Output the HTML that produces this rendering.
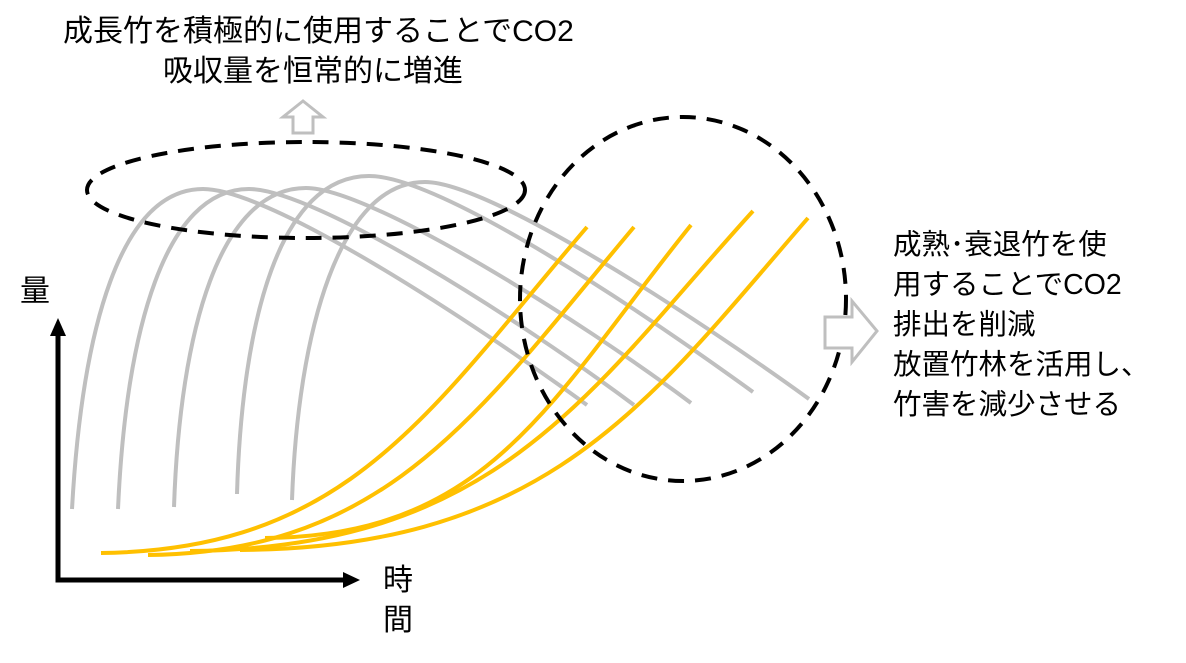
<!DOCTYPE html>
<html><head><meta charset="utf-8"><style>
html,body{margin:0;padding:0;background:#fff;}
body{width:1186px;height:663px;position:relative;overflow:hidden;font-family:"Liberation Sans","Noto Sans CJK JP",sans-serif;color:#000;}
.t{position:absolute;font-size:30px;line-height:40px;white-space:nowrap;}
.r{font-size:28.5px;}
</style></head><body>
<svg width="1186" height="663" style="position:absolute;left:0;top:0">
<g fill="none" stroke="#bfbfbf" stroke-width="4">
<path d="M72,509 C82,330 120,189 203,189 C270,189 470,320 587,405"/>
<path d="M118,509 C126,330 165,189 249,189 C315,189 520,320 634,405"/>
<path d="M174,507 C180,330 220,188 306,188 C370,188 580,320 691,403"/>
<path d="M237,494 C242,320 280,176 369,176 C440,176 640,310 753,392"/>
<path d="M292,500 C298,330 340,182 425,182 C490,182 700,320 809,399"/>
</g>
<g fill="none" stroke="#ffc000" stroke-width="4">
<path d="M101,553 C350,550 430,410 587,227"/>
<path d="M148,555 C390,552 480,410 634,227"/>
<path d="M265,538 C490,536 550,400 691,225"/>
<path d="M190,551 C500,548 590,390 753,211"/>
<path d="M240,550 C550,548 650,400 808,218"/>
</g>
<g fill="none" stroke="#000" stroke-width="4" stroke-dasharray="16,11">
<ellipse cx="306" cy="190" rx="219" ry="48"/>
<ellipse cx="683" cy="299" rx="163" ry="182"/>
</g>
<g fill="#fff" stroke="#bfbfbf" stroke-width="3">
<path d="M293,133 L293,117 L283,117 L303,101 L323,117 L313,117 L313,133 Z"/>
<path d="M825,317 L852,317 L852,301 L877,331 L852,362 L852,348 L825,348 Z"/>
</g>
<g stroke="#000" stroke-width="5" fill="none">
<path d="M58,330 L58,580 L345,580"/>
</g>
<path d="M50,336 L58,318 L66,336 Z" fill="#000"/>
<path d="M343,572 L360,580 L343,588 Z" fill="#000"/>
</svg>
<div class="t" style="left:63px;top:12px;">成長竹を積極的に使用することでCO2</div>
<div class="t" style="left:163px;top:52px;">吸収量を恒常的に増進</div>
<div class="t" style="left:20px;top:272px;">量</div>
<div class="t" style="left:383px;top:561px;">時</div>
<div class="t" style="left:383px;top:601px;">間</div>
<div class="t r" style="left:893px;top:225px;">成熟･衰退竹を使<br>用することでCO2<br>排出を削減<br>放置竹林を活用し、<br>竹害を減少させる</div>
</body></html>
